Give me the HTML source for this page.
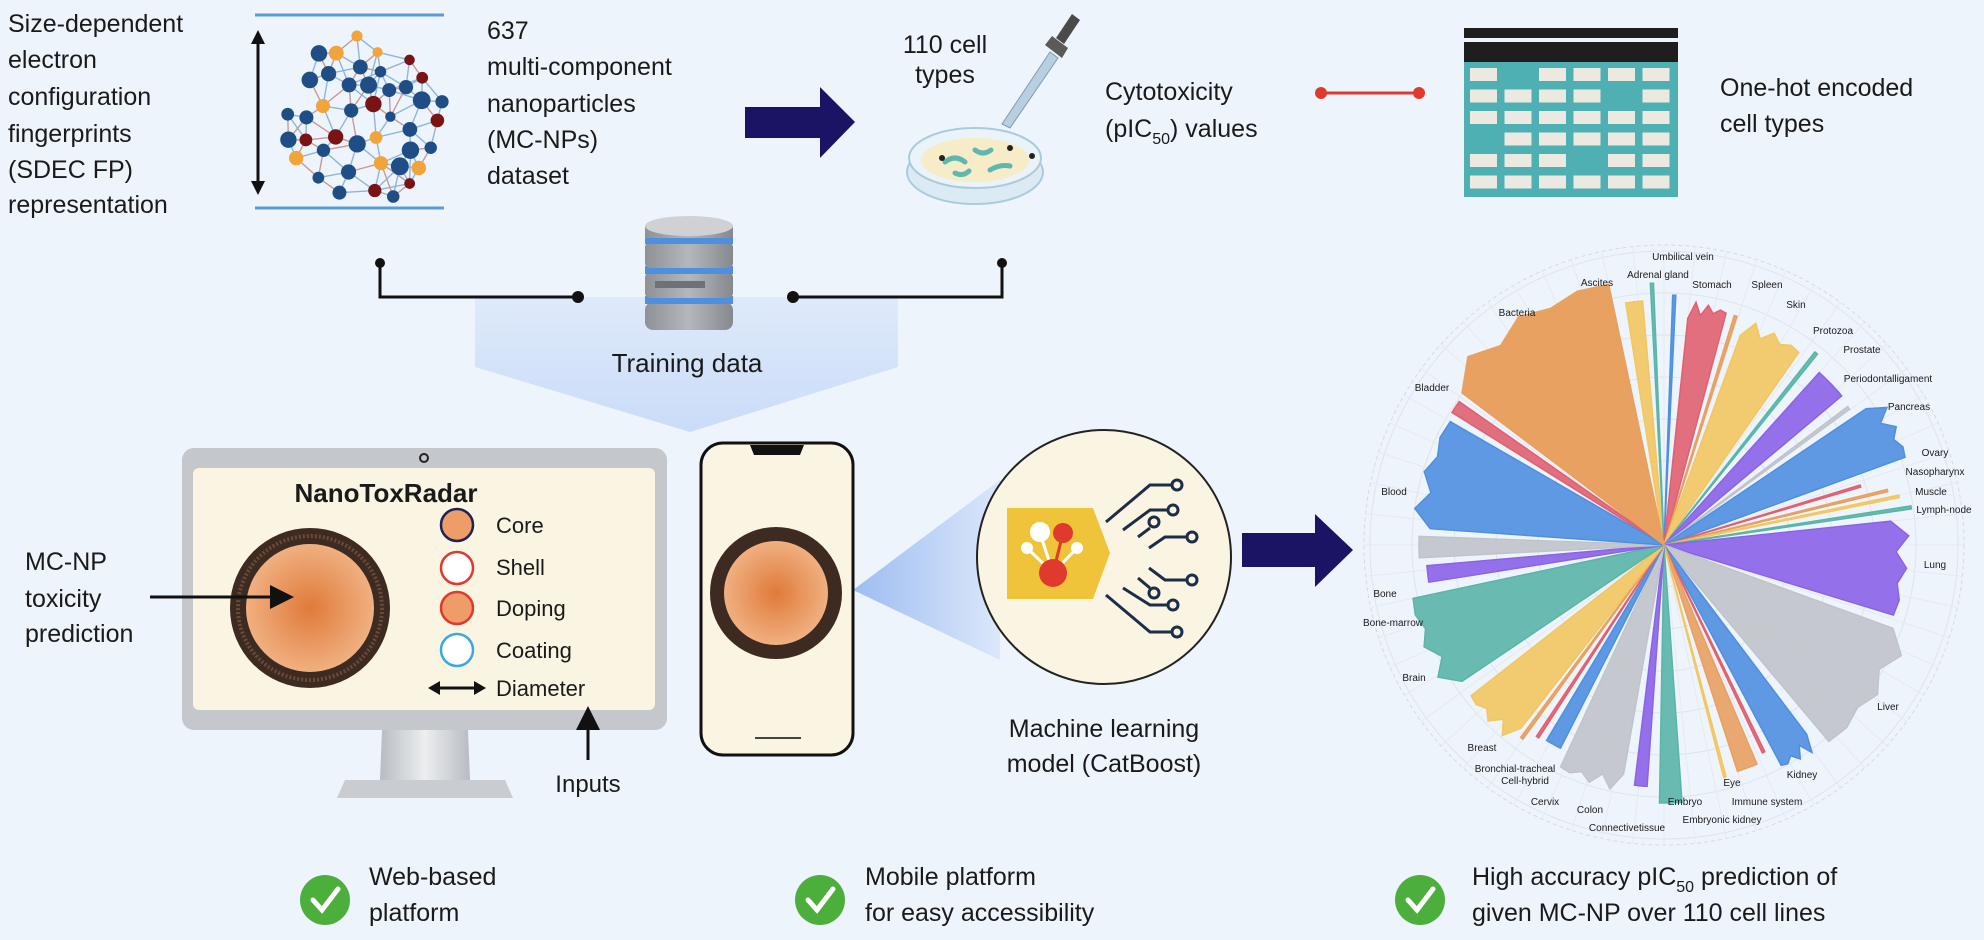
<!DOCTYPE html>
<html><head><meta charset="utf-8">
<style>
html,body{margin:0;padding:0;background:#eef4fc;}
svg{display:block}
text{font-family:"Liberation Sans",Arial,sans-serif;fill:#1a1a1a}
.t{font-size:25px}
.s{font-size:22px}
.r{font-size:10px}
</style></head>
<body>
<svg id="sv" width="1984" height="940" viewBox="0 0 1984 940" xmlns="http://www.w3.org/2000/svg">
<defs>
<radialGradient id="core" cx="50%" cy="50%" r="50%">
<stop offset="0" stop-color="#e07a3a"/><stop offset="1" stop-color="#f0b080"/></radialGradient>
<linearGradient id="fun" x1="0" y1="0" x2="0" y2="1">
<stop offset="0" stop-color="#dde9fb"/><stop offset="1" stop-color="#c6d9f7"/></linearGradient>
<linearGradient id="cone" x1="0" y1="0" x2="1" y2="0">
<stop offset="0" stop-color="#8fb3f0"/><stop offset="1" stop-color="#d8e5fa"/></linearGradient>
<linearGradient id="stand" x1="0" y1="0" x2="1" y2="0">
<stop offset="0" stop-color="#b8bcc2"/><stop offset=".5" stop-color="#eceef0"/><stop offset="1" stop-color="#b8bcc2"/></linearGradient>
<linearGradient id="db" x1="0" y1="0" x2="1" y2="0">
<stop offset="0" stop-color="#8e9196"/><stop offset=".5" stop-color="#b4b7bb"/><stop offset="1" stop-color="#85888d"/></linearGradient>
<marker id="ah" markerWidth="8" markerHeight="8" refX="6" refY="4" orient="auto" markerUnits="strokeWidth"><path d="M0,0 L8,4 L0,8 z" fill="#111"/></marker>
</defs>
<rect width="1984" height="940" fill="#eef4fc"/>

<g>
<text x="8" y="32" class="t">Size-dependent</text>
<text x="8" y="68" class="t">electron</text>
<text x="8" y="105" class="t">configuration</text>
<text x="8" y="142" class="t">fingerprints</text>
<text x="8" y="178" class="t">(SDEC FP)</text>
<text x="8" y="213" class="t">representation</text>
</g>
<line x1="255" y1="15" x2="444" y2="15" stroke="#5b9bd5" stroke-width="3"/>
<line x1="255" y1="208" x2="444" y2="208" stroke="#5b9bd5" stroke-width="3"/>
<line x1="258" y1="40" x2="258" y2="185" stroke="#111" stroke-width="3"/>
<path d="M251,44 L258,30 L265,44 z M251,181 L258,195 L265,181 z" fill="#111"/>
<g id="sphere"></g>

<g>
<text x="487" y="39" class="t">637</text>
<text x="487" y="75" class="t">multi-component</text>
<text x="487" y="112" class="t">nanoparticles</text>
<text x="487" y="148" class="t">(MC-NPs)</text>
<text x="487" y="184" class="t">dataset</text>
</g>
<path d="M745,107 L820,107 L820,87 L855,122 L820,158 L820,138 L745,138 z" fill="#1b1464"/>

<text x="945" y="53" class="t" text-anchor="middle">110 cell</text>
<text x="945" y="83" class="t" text-anchor="middle">types</text>
<ellipse cx="975" cy="172" rx="68" ry="32" fill="#dcebf3" stroke="#a9cbdc" stroke-width="2"/>
<ellipse cx="975" cy="158" rx="66" ry="30" fill="#eaf3f8" stroke="#a9cbdc" stroke-width="2"/>
<ellipse cx="975" cy="160" rx="54" ry="22" fill="#f6ecc8"/>
<path d="M945,162 q10,-8 20,0 M975,150 q8,6 16,0 M990,170 q10,-6 20,-4 M955,173 q8,4 14,-2" stroke="#5eb7b0" stroke-width="5" fill="none" stroke-linecap="round"/>
<circle cx="942" cy="158" r="3" fill="#222"/><circle cx="1010" cy="148" r="3" fill="#222"/><circle cx="1032" cy="156" r="3" fill="#222"/>
<path d="M1002,124 L1050,52 L1058,58 L1010,128 z" fill="#b7cfe0" stroke="#7e9bb0"/>
<path d="M1045,45 L1062,58 L1068,48 L1052,36 z" fill="#5a5a5a"/>
<path d="M1056,38 L1072,14 L1080,20 L1064,44 z" fill="#4a4a4a"/>

<text x="1105" y="100" class="t">Cytotoxicity</text>
<text x="1105" y="137" class="t">(pIC<tspan font-size="16" dy="7">50</tspan><tspan dy="-7">) values</tspan></text>
<line x1="1321" y1="93" x2="1419" y2="93" stroke="#e03a2f" stroke-width="3"/>
<circle cx="1321" cy="93" r="6" fill="#e03a2f"/><circle cx="1419" cy="93" r="6" fill="#e03a2f"/>
<g id="table"></g>
<text x="1720" y="96" class="t">One-hot encoded</text>
<text x="1720" y="132" class="t">cell types</text>

<path d="M475,297 L898,297 L898,367 L690,432 L475,367 z" fill="url(#fun)" opacity=".9"/>
<path d="M380,263 L380,297 L578,297" stroke="#111" stroke-width="3" fill="none"/>
<circle cx="380" cy="263" r="5" fill="#111"/><circle cx="578" cy="297" r="6" fill="#111"/>
<path d="M1002,263 L1002,297 L793,297" stroke="#111" stroke-width="3" fill="none"/>
<circle cx="1002" cy="263" r="5" fill="#111"/><circle cx="793" cy="297" r="6" fill="#111"/>
<g>
<rect x="645" y="302" width="88" height="28" rx="8" fill="url(#db)"/>
<rect x="645" y="296" width="88" height="8" fill="#4f8fe0"/>
<rect x="645" y="272" width="88" height="26" rx="5" fill="url(#db)"/>
<rect x="645" y="266" width="88" height="8" fill="#4f8fe0"/>
<rect x="645" y="242" width="88" height="26" rx="5" fill="url(#db)"/>
<rect x="645" y="236" width="88" height="8" fill="#4f8fe0"/>
<rect x="645" y="226" width="88" height="12" fill="url(#db)"/>
<ellipse cx="689" cy="226" rx="44" ry="10" fill="#cfd1d4"/>
<rect x="655" y="281" width="50" height="7" fill="#6e7176"/>
</g>
<text x="687" y="372" font-size="26" text-anchor="middle">Training data</text>

<rect x="182" y="448" width="485" height="282" rx="12" fill="#c4c7cc"/>
<rect x="193" y="468" width="462" height="242" rx="6" fill="#faf4e2"/>
<circle cx="424" cy="458" r="4" fill="none" stroke="#222" stroke-width="2"/>
<path d="M382,730 L468,730 L470,780 L380,780 z" fill="url(#stand)"/>
<path d="M345,780 L505,780 L513,798 L337,798 z" fill="#c9ccd0"/>
<text x="386" y="502" font-size="26" font-weight="bold" text-anchor="middle">NanoToxRadar</text>
<circle cx="310" cy="608" r="80" fill="#3d2a20"/>
<circle cx="310" cy="608" r="72" fill="none" stroke="#6a4a38" stroke-width="4" stroke-dasharray="2 2"/>
<circle cx="310" cy="608" r="64" fill="url(#core)"/>
<text x="25" y="570" class="t">MC-NP</text>
<text x="25" y="607" class="t">toxicity</text>
<text x="25" y="642" class="t">prediction</text>
<line x1="150" y1="597" x2="288" y2="597" stroke="#111" stroke-width="3" marker-end="url(#ah)"/>
<circle cx="457" cy="525" r="16" fill="#ee9c68" stroke="#1c2455" stroke-width="2.5"/>
<circle cx="457" cy="568" r="16" fill="#fff" stroke="#e03a2f" stroke-width="2.5"/>
<circle cx="457" cy="608" r="16" fill="#ee9c68" stroke="#e03a2f" stroke-width="2.5"/>
<circle cx="457" cy="650" r="16" fill="#fff" stroke="#3aa9e0" stroke-width="2.5"/>
<line x1="434" y1="688" x2="480" y2="688" stroke="#111" stroke-width="3"/>
<path d="M440,681 L428,688 L440,695 z M474,681 L486,688 L474,695 z" fill="#111"/>
<text x="496" y="533" class="s">Core</text>
<text x="496" y="575" class="s">Shell</text>
<text x="496" y="616" class="s">Doping</text>
<text x="496" y="658" class="s">Coating</text>
<text x="496" y="696" class="s">Diameter</text>
<line x1="588" y1="760" x2="588" y2="712" stroke="#111" stroke-width="3" marker-end="url(#ah)"/>
<text x="588" y="792" font-size="24" text-anchor="middle">Inputs</text>

<path d="M853,590 L1000,480 L1000,660 z" fill="url(#cone)" opacity=".85"/>
<rect x="701" y="443" width="152" height="312" rx="22" fill="#faf4e2" stroke="#111" stroke-width="3"/>
<path d="M750,445 L804,445 L800,455 L754,455 z" fill="#111"/>
<line x1="755" y1="738" x2="801" y2="738" stroke="#444" stroke-width="2"/>
<circle cx="776" cy="593" r="66" fill="#3d2a20"/>
<circle cx="776" cy="593" r="52" fill="url(#core)"/>

<circle cx="1104" cy="557" r="127" fill="#faf4e2" stroke="#222" stroke-width="2"/>
<path d="M1007,508 L1093,508 L1110,553 L1093,599 L1007,599 z" fill="#f0c43a"/>
<g stroke="#e03a2f" stroke-width="3"><line x1="1053" y1="573" x2="1063" y2="533"/></g>
<g stroke="#fff" stroke-width="3"><line x1="1053" y1="573" x2="1040" y2="533"/><line x1="1053" y1="573" x2="1027" y2="548"/><line x1="1053" y1="573" x2="1077" y2="548"/></g>
<circle cx="1053" cy="573" r="14" fill="#e03a2f"/><circle cx="1063" cy="533" r="10" fill="#e03a2f"/>
<circle cx="1040" cy="532" r="10" fill="#fff"/><circle cx="1027" cy="548" r="6" fill="#fff"/><circle cx="1077" cy="548" r="6" fill="#fff"/>
<g stroke="#1c2d45" stroke-width="3" fill="none">
<path d="M1106,522 L1150,485 L1172,485"/><circle cx="1177" cy="485" r="5"/>
<path d="M1123,530 L1150,510 L1168,510"/><circle cx="1173" cy="510" r="5"/>
<path d="M1138,537 L1150,528"/><circle cx="1154" cy="522" r="5"/>
<path d="M1149,548 L1165,537 L1187,537"/><circle cx="1192" cy="537" r="5"/>
<path d="M1149,568 L1165,580 L1187,580"/><circle cx="1192" cy="580" r="5"/>
<path d="M1138,578 L1150,588"/><circle cx="1154" cy="593" r="5"/>
<path d="M1123,588 L1150,605 L1168,605"/><circle cx="1173" cy="605" r="5"/>
<path d="M1106,595 L1150,632 L1172,632"/><circle cx="1177" cy="632" r="5"/>
</g>
<text x="1104" y="737" class="t" text-anchor="middle">Machine learning</text>
<text x="1104" y="772" class="t" text-anchor="middle">model (CatBoost)</text>
<path d="M1242,533 L1315,533 L1315,514 L1353,550 L1315,587 L1315,567 L1242,567 z" fill="#1b1464"/>

<g id="radar"></g>

<g>
<circle cx="325" cy="900" r="25" fill="#4caf3c"/><path d="M313,900 L322,910 L338,889" stroke="#fff" stroke-width="5" fill="none" stroke-linecap="round"/>
<circle cx="820" cy="900" r="25" fill="#4caf3c"/><path d="M808,900 L817,910 L833,889" stroke="#fff" stroke-width="5" fill="none" stroke-linecap="round"/>
<circle cx="1420" cy="900" r="25" fill="#4caf3c"/><path d="M1408,900 L1417,910 L1433,889" stroke="#fff" stroke-width="5" fill="none" stroke-linecap="round"/>
<text x="369" y="885" class="t">Web-based</text><text x="369" y="921" class="t">platform</text>
<text x="865" y="885" class="t">Mobile platform</text><text x="865" y="921" class="t">for easy accessibility</text>
<text x="1472" y="885" class="t">High accuracy pIC<tspan font-size="16" dy="7">50</tspan><tspan dy="-7"> prediction of</tspan></text>
<text x="1472" y="921" class="t">given MC-NP over 110 cell lines</text>
</g>
</svg>
<script>
var NS="http://www.w3.org/2000/svg";
function el(p,t,a,txt){var e=document.createElementNS(NS,t);for(var k in a)e.setAttribute(k,a[k]);if(txt)e.textContent=txt;p.appendChild(e);return e;}
var tb=document.getElementById('table');
el(tb,'rect',{x:1464,y:28,width:214,height:10,fill:'#1e1e1e'});
el(tb,'rect',{x:1464,y:42,width:214,height:20,fill:'#1e1e1e'});
el(tb,'rect',{x:1464,y:62,width:214,height:135,fill:'#4fb0b4'});
var pat=[[1,0,1,1,1,1],[1,1,1,1,0,1],[1,1,1,1,1,1],[0,1,1,1,1,1],[1,1,1,0,1,1],[1,1,1,1,1,1]];
for(var r=0;r<6;r++)for(var c=0;c<6;c++)if(pat[r][c])el(tb,'rect',{x:1470+c*34.5,y:68+r*21.5,width:27,height:13,fill:'#ece9e1'});
var sp=document.getElementById('sphere');var seed=11;function rnd(){seed=(seed*9301+49297)%233280;return seed/233280;}
var pts=[],tries=0;
while(pts.length<42&&tries<5000){tries++;var a=rnd()*6.283,d=Math.sqrt(rnd())*84;var p=[365+Math.cos(a)*d*0.98,118+Math.sin(a)*d];
var ok=true;for(var i=0;i<pts.length;i++){var dx=pts[i][0]-p[0],dy=pts[i][1]-p[1];if(dx*dx+dy*dy<17*17){ok=false;break;}}if(ok)pts.push(p);}
for(var i=0;i<pts.length;i++)for(var j=i+1;j<pts.length;j++){var dx=pts[i][0]-pts[j][0],dy=pts[i][1]-pts[j][1];if(dx*dx+dy*dy<36*36)el(sp,'line',{x1:pts[i][0],y1:pts[i][1],x2:pts[j][0],y2:pts[j][1],stroke:((i+j)%3?'#8fb6d8':'#c99a94'),'stroke-width':1.4});}
var cols=['#1f4e86','#1f4e86','#7a1414','#f0a43a','#1f4e86'];
pts.forEach(function(p,i){el(sp,'circle',{cx:p[0],cy:p[1],r:5+rnd()*4,fill:cols[i%5]});});
var rd=document.getElementById('radar');var cx=1664,cy=545;
for(var k=1;k<=7;k++)el(rd,'circle',{cx:cx,cy:cy,r:k*42,fill:'none',stroke:'#dfe4ea','stroke-width':1});
el(rd,'circle',{cx:cx,cy:cy,r:300,fill:'none',stroke:'#d5dbe3','stroke-width':1,'stroke-dasharray':'4 3'});
for(var a=0;a<360;a+=6){var t=a*Math.PI/180;el(rd,'line',{x1:cx,y1:cy,x2:cx+300*Math.sin(t),y2:cy-300*Math.cos(t),stroke:'#e6eaef','stroke-width':1});}
var O='#e8a05f',P='#e06070',Y='#f2c660',T='#5ab5a8',B='#4f8fe0',U='#8a63e8',G='#c0c4ca';
var W=[[-53,-12,272,O],[-58,-55,250,P],[-9,-5,245,Y],[-3,-2.3,262,T],[2,2.7,250,B],[6,15,245,P],[17,17.7,240,O],[20,35,240,Y],[38,38.8,245,T],[42,50,232,U],[53,53.8,230,G],[56,70,262,B],[73,73.6,205,P],[76,76.6,230,O],[78,78.6,240,Y],[81,81.7,250,T],[84,107,245,U],[110,140,262,G],[143,152,255,B],[154,154.7,230,P],[157,162,238,O],[165,165.6,240,Y],[176,181,258,T],[184,187,242,U],[190,205,250,G],[207,211,228,B],[213,213.7,230,P],[216,216.7,240,O],[218,232,250,Y],[236,258,262,T],[261,265,238,U],[267,272,245,G],[274,300,252,B],[307,348,0,O]];
W.forEach(function(w){var a1=w[0]*Math.PI/180,a2=w[1]*Math.PI/180,r=w[2]||270;
var d='M'+cx+','+cy;var n=6;for(var i=0;i<=n;i++){var a=a1+(a2-a1)*i/n;var rr=r*(w[1]-w[0]>8?(0.93+0.07*Math.abs(Math.sin(i*1.7))):1);d+=' L'+(cx+rr*Math.sin(a)).toFixed(1)+','+(cy-rr*Math.cos(a)).toFixed(1);}d+='Z';
el(rd,'path',{d:d,fill:w[3],'fill-opacity':0.9,stroke:w[3],'stroke-width':1.5});});
var L=[["Umbilical vein",1683,257],["Adrenal gland",1658,275],["Ascites",1597,283],["Bacteria",1517,313],["Bladder",1432,388],["Blood",1394,492],["Bone",1385,594],["Bone-marrow",1393,623],["Brain",1414,678],["Breast",1482,748],["Bronchial-tracheal",1515,769],["Cell-hybrid",1525,781],["Cervix",1545,802],["Colon",1590,810],["Connectivetissue",1627,828],["Embryo",1685,802],["Embryonic kidney",1722,820],["Immune system",1767,802],["Eye",1732,783],["Kidney",1802,775],["Liver",1888,707],["Lung",1935,565],["Lymph-node",1944,510],["Muscle",1931,492],["Nasopharynx",1935,472],["Ovary",1935,453],["Pancreas",1909,407],["Periodontalligament",1888,379],["Prostate",1862,350],["Protozoa",1833,331],["Skin",1796,305],["Spleen",1767,285],["Stomach",1712,285]];
L.forEach(function(l){el(rd,'text',{x:l[1],y:l[2]+3,'font-size':10,'text-anchor':'middle'},l[0]);});
</script>
</body></html>
